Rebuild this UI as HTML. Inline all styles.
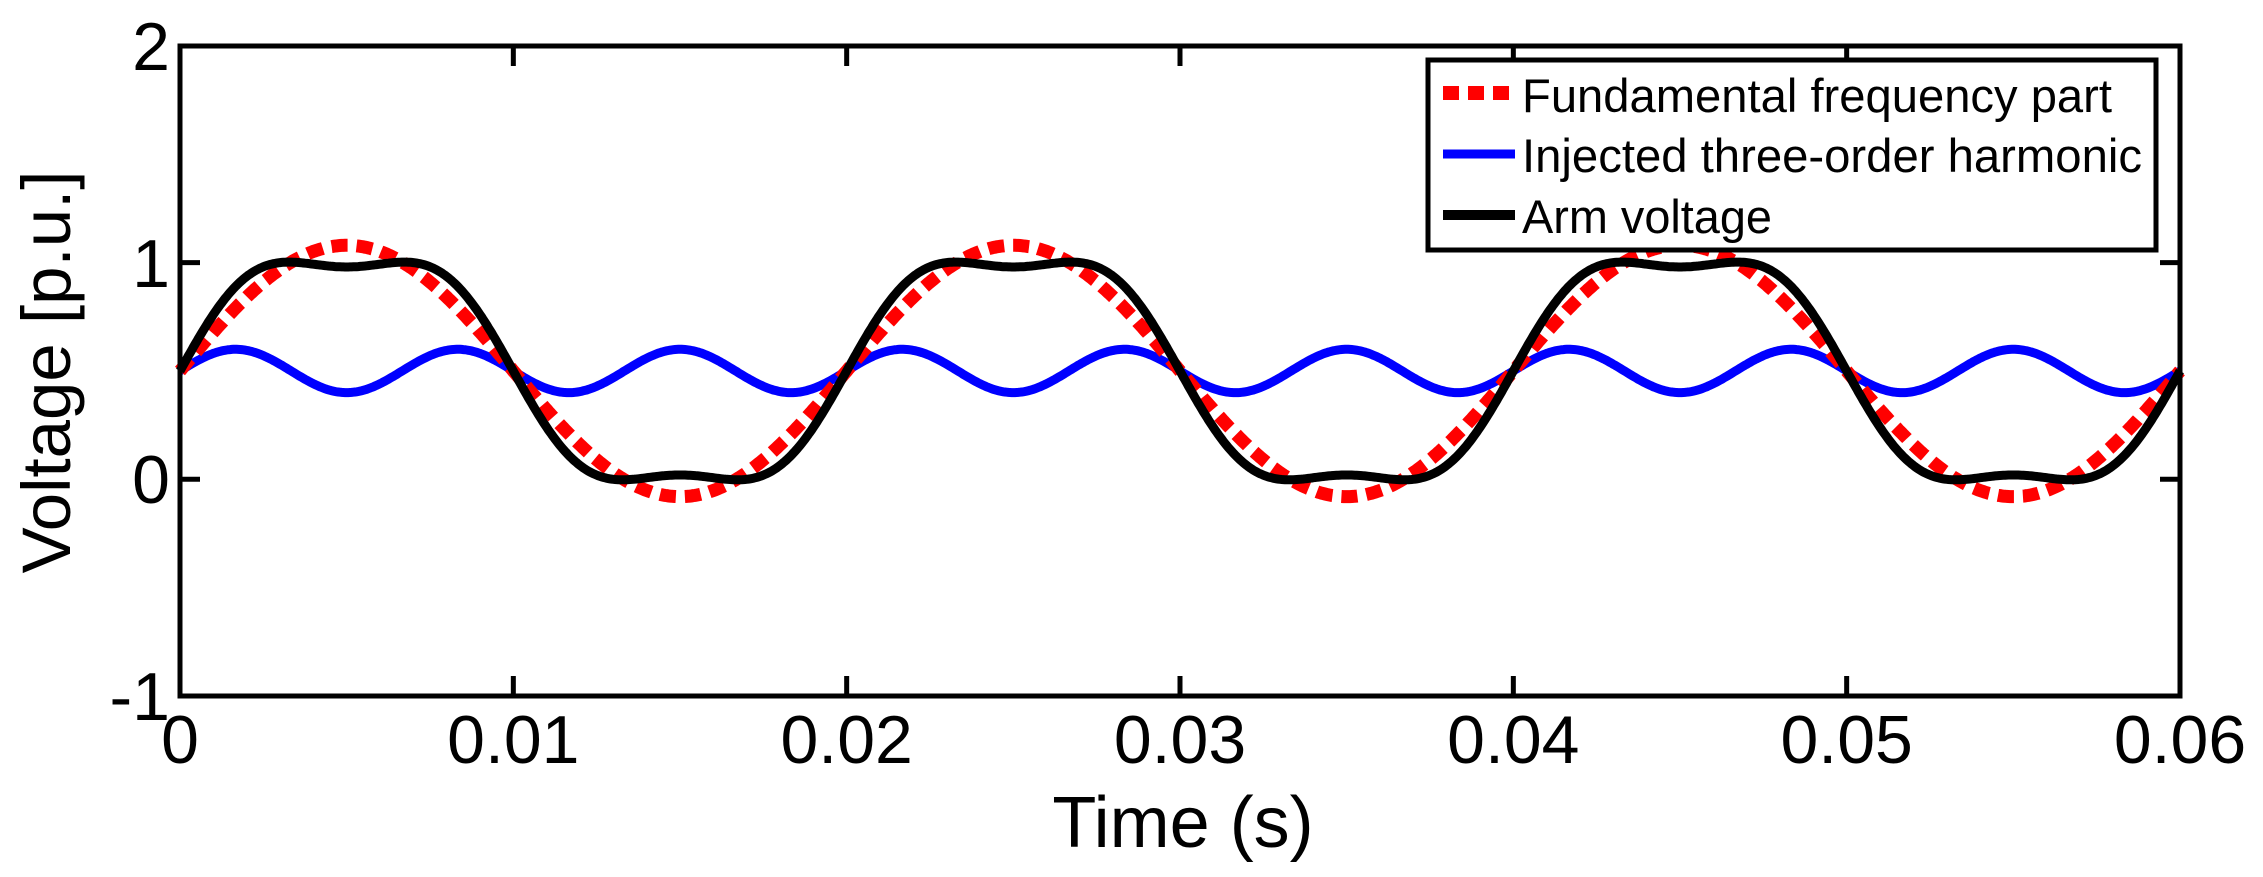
<!DOCTYPE html>
<html><head><meta charset="utf-8"><style>
html,body{margin:0;padding:0;background:#fff;}
svg{display:block;}
text{font-family:"Liberation Sans",Arial,sans-serif;fill:#000;}
</style></head><body>
<svg id="s" width="2263" height="877" viewBox="0 0 2263 877" xmlns="http://www.w3.org/2000/svg">
<g id="curves"></g>
<rect x="180" y="46" width="2000" height="650" fill="none" stroke="#000" stroke-width="5"/>
<g id="ticks" stroke="#000" stroke-width="5"></g>
<g font-size="68" text-anchor="end">
<text x="170" y="70">2</text>
<text x="170" y="287">1</text>
<text x="170" y="503">0</text>
<text x="170" y="720">-1</text>
</g>
<g font-size="68" text-anchor="middle" id="xl"></g>
<text x="1183" y="847" font-size="72" text-anchor="middle">Time (s)</text>
<text transform="translate(70,372) rotate(-90)" font-size="69" text-anchor="middle">Voltage [p.u.]</text>
<g>
<rect x="1428" y="60" width="728" height="190" fill="#fff" stroke="#000" stroke-width="5"/>
<line x1="1443" y1="93" x2="1515" y2="93" stroke="#f00" stroke-width="14" stroke-dasharray="16,9"/>
<line x1="1443" y1="154" x2="1515" y2="154" stroke="#00f" stroke-width="9"/>
<line x1="1443" y1="215" x2="1515" y2="215" stroke="#000" stroke-width="10"/>
<g font-size="47">
<text x="1522" y="112" textLength="590" lengthAdjust="spacingAndGlyphs">Fundamental frequency part</text>
<text x="1522" y="172" textLength="620" lengthAdjust="spacingAndGlyphs">Injected three-order harmonic</text>
<text x="1522" y="233" textLength="250" lengthAdjust="spacingAndGlyphs">Arm voltage</text>
</g>
</g>
</svg>
<script>
var X=function(t){return 180+t/0.06*2000;},Y=function(v){return 479.3-v*216.67;};
var w=2*Math.PI*50;
function path(f){var d="";for(var i=0;i<=1200;i++){var t=0.06*i/1200;d+=(i?"L":"M")+X(t).toFixed(1)+" "+Y(f(t)).toFixed(1);}return d;}
var g=document.getElementById("curves"),ns="http://www.w3.org/2000/svg";
function add(d,c,sw,da){var p=document.createElementNS(ns,"path");p.setAttribute("d",d);p.setAttribute("fill","none");p.setAttribute("stroke",c);p.setAttribute("stroke-width",sw);if(da)p.setAttribute("stroke-dasharray",da);g.appendChild(p);}
add(path(function(t){return 0.5+0.1*Math.sin(3*w*t);}),"#00f",9);
add(path(function(t){return 0.5+0.58*Math.sin(w*t);}),"#f00",13,"16,9");
add(path(function(t){return 0.5+0.58*Math.sin(w*t)+0.1*Math.sin(3*w*t);}),"#000",9);
var tk=document.getElementById("ticks"),xl=document.getElementById("xl");
function ln(a,b,c,d){var l=document.createElementNS(ns,"line");l.setAttribute("x1",a);l.setAttribute("y1",b);l.setAttribute("x2",c);l.setAttribute("y2",d);tk.appendChild(l);}
for(var i=0;i<=6;i++){var x=X(i*0.01);ln(x,696,x,676);ln(x,46,x,66);var tx=document.createElementNS(ns,"text");tx.setAttribute("x",x);tx.setAttribute("y",763);tx.textContent=i==0?"0":"0.0"+i;xl.appendChild(tx);}
[-1,0,1,2].forEach(function(v){var y=Y(v);ln(180,y,200,y);ln(2180,y,2160,y);});
</script>
</body></html>
